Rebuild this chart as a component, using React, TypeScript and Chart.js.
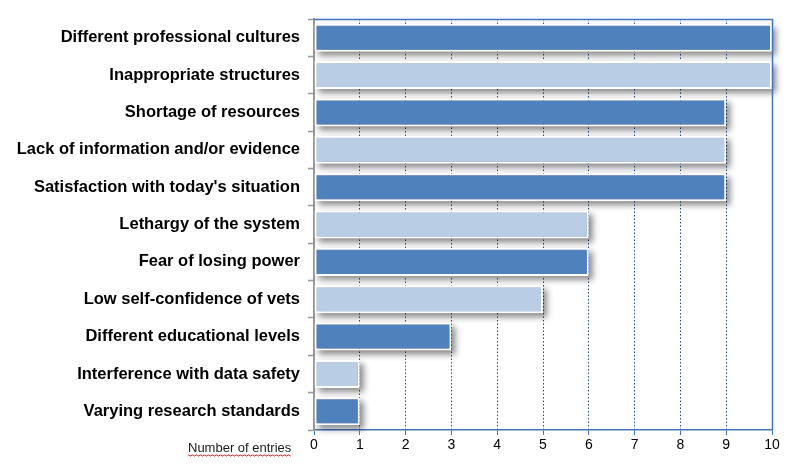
import React, { useEffect, useRef } from "react";
import { Chart, registerables } from "chart.js";

Chart.register(...registerables);

const categories = [
  "Different professional cultures",
  "Inappropriate structures",
  "Shortage of resources",
  "Lack of information and/or evidence",
  "Satisfaction with today's situation",
  "Lethargy of the system",
  "Fear of losing power",
  "Low self-confidence of vets",
  "Different educational levels",
  "Interference with data safety",
  "Varying research standards",
];
const entries = [10, 10, 9, 9, 9, 6, 6, 5, 3, 1, 1];
const DARK = "#4F81BD";
const LIGHT = "#B9CDE5";
const barColors = categories.map((_, i) => (i % 2 === 0 ? DARK : LIGHT));
const axisTitle = "Number of entries";

const decorPlugin = {
  id: "decor",
  beforeDatasetsDraw(chart: any) {
    const ctx = chart.ctx;
    const meta = chart.getDatasetMeta(0);
    ctx.save();
    ctx.filter = "blur(3px)";
    ctx.fillStyle = "rgba(0,0,0,0.45)";
    meta.data.forEach((bar: any) => {
      const p = bar.getProps(["x", "y", "base", "height"], true);
      const left = Math.min(p.x, p.base);
      const w = Math.abs(p.x - p.base);
      const top = p.y - p.height / 2;
      ctx.fillRect(left + 4, top + 4, w, p.height);
    });
    ctx.restore();
  },
  afterDatasetsDraw(chart: any) {
    const ctx = chart.ctx;
    const a = chart.chartArea;
    ctx.save();
    ctx.strokeStyle = "#4472C4";
    ctx.lineWidth = 1.5;
    ctx.beginPath();
    ctx.moveTo(a.left, a.top + 0.5);
    ctx.lineTo(a.right + 0.5, a.top + 0.5);
    ctx.lineTo(a.right + 0.5, a.bottom);
    ctx.stroke();
    // axis title
    ctx.font = "13px Arial, 'Liberation Sans', sans-serif";
    ctx.fillStyle = "#1a1a1a";
    ctx.textBaseline = "alphabetic";
    ctx.textAlign = "left";
    const x0 = 188;
    const y0 = 452;
    ctx.fillText(axisTitle, x0, y0);
    const w = ctx.measureText(axisTitle).width;
    ctx.strokeStyle = "#E03030";
    ctx.lineWidth = 1;
    ctx.beginPath();
    for (let x = 0; x <= w; x += 1) {
      const y = y0 + 3 + ((Math.floor(x / 2) % 2) === 0 ? 0 : 1);
      if (x === 0) ctx.moveTo(x0 + x, y);
      else ctx.lineTo(x0 + x, y);
    }
    ctx.stroke();
    ctx.restore();
  },
};

export default function App() {
  const ref = useRef<HTMLCanvasElement | null>(null);
  useEffect(() => {
    document.body.style.margin = "0";
    const chart = new Chart(ref.current as HTMLCanvasElement, {
      type: "bar",
      data: {
        labels: categories,
        datasets: [
          {
            data: entries,
            backgroundColor: barColors,
            borderColor: "#FFFFFF",
            borderWidth: 2,
            borderSkipped: false,
            categoryPercentage: 1,
            barPercentage: 0.75,
          },
        ],
      },
      options: {
        indexAxis: "y",
        responsive: false,
        animation: false,
        layout: { padding: { top: 19, right: 28, left: 0, bottom: 0 } },
        plugins: { legend: { display: false }, tooltip: { enabled: false } },
        scales: {
          x: {
            min: 0,
            max: 10,
            ticks: {
              stepSize: 1,
              color: "#000",
              font: { family: "Arial, 'Liberation Sans', sans-serif", size: 14 },
              padding: 2,
            },
            grid: {
              color: "#1F4E8C",
              lineWidth: 1,
              tickColor: "#4472C4",
              tickLength: 5,
            },
            border: { color: "#4472C4", width: 1.5, dash: [1.5, 2] },
            afterFit: (s: any) => {
              s.height = 40;
            },
          },
          y: {
            ticks: {
              color: "#000",
              font: { family: "Arial, 'Liberation Sans', sans-serif", size: 16.5, weight: "bold" },
              padding: 8,
            },
            grid: {
              display: true,
              offset: true,
              drawOnChartArea: false,
              drawTicks: true,
              tickLength: 6,
              tickColor: "#999",
              tickWidth: 1.5,
            },
            border: { color: "#999", width: 2 },
            afterFit: (s: any) => {
              s.width = 314;
            },
          },
        },
      },
      plugins: [decorPlugin],
    } as any);
    return () => chart.destroy();
  }, []);
  return (
    <div style={{ position: "absolute", left: 0, top: 0, width: 800, height: 470 }}>
      <canvas ref={ref} width={800} height={470} />
    </div>
  );
}
